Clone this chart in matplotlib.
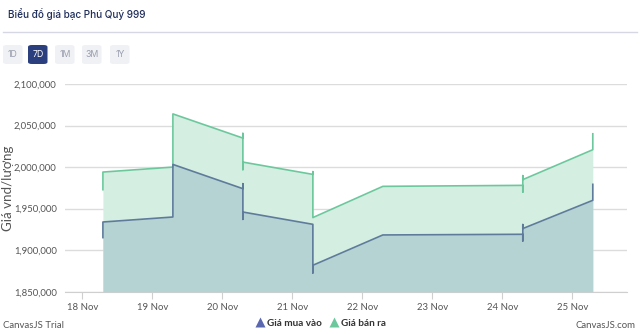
import matplotlib
matplotlib.use("Agg")
import matplotlib.pyplot as plt
from matplotlib.patches import FancyBboxPatch
from matplotlib.lines import Line2D
import pandas as pd

plt.rcParams['font.family'] = ['Lato', 'DejaVu Sans']

title = "Biểu đồ giá bạc Phú Quý 999"
buttons = ["1D", "7D", "1M", "3M", "1Y"]
active_button = "7D"
y_title = "Giá vnd/lượng"
series_names = ["Giá mua vào", "Giá bán ra"]

times = ["2024-11-18 07:00", "2024-11-18 07:00",
         "2024-11-19 07:00", "2024-11-19 07:00",
         "2024-11-20 07:00", "2024-11-20 07:00", "2024-11-20 07:00", "2024-11-20 07:00",
         "2024-11-21 07:00", "2024-11-21 07:00", "2024-11-21 07:00",
         "2024-11-22 07:00",
         "2024-11-24 07:00", "2024-11-24 07:00", "2024-11-24 07:00", "2024-11-24 07:00",
         "2024-11-25 07:00", "2024-11-25 07:00"]
buy = [1915100, 1933900,
       1939900, 2003200,
       1974000, 1980000, 1937100, 1945900,
       1931100, 1872600, 1881800,
       1918300,
       1919100, 1911100, 1930800, 1926000,
       1960000, 1979200]
sell = [1972800, 1994000,
        2000000, 2064000,
        2034900, 2040500, 1996900, 2006000,
        1991200, 1994500, 1939200,
        1976800,
        1978000, 1969900, 1989700, 1984900,
        2020900, 2040100]
tick_dates = ["2024-11-18", "2024-11-19", "2024-11-20", "2024-11-21",
              "2024-11-22", "2024-11-23", "2024-11-24", "2024-11-25"]
y_ticks = [1850000, 1900000, 1950000, 2000000, 2050000, 2100000]

x = pd.to_datetime(times)
xt = pd.to_datetime(tick_dates)

fig = plt.figure(figsize=(6.4, 3.34), dpi=100)
W, H = 640, 334

def fx(px):
    return px / W

def fy(py):
    return 1 - py / H

# Header
fig.text(fx(8), fy(14), title, fontsize=7.2, color="#1f2d5a", va="center", ha="left",
         family=['Inter', 'DejaVu Sans'], fontweight="medium")
fig.add_artist(Line2D([fx(3), fx(637)], [fy(32.3), fy(32.3)], color="#d5d8e2", lw=1))
btn_x = [3, 28, 55, 82, 110]
for bx, b in zip(btn_x, buttons):
    act = b == active_button
    p = FancyBboxPatch((fx(bx), fy(64)), fx(19.5), 19 / H,
                       boxstyle="round,pad=0,rounding_size=0.006",
                       transform=fig.transFigure,
                       facecolor="#2b3f7e" if act else "#eff1f5", edgecolor="none")
    fig.add_artist(p)
    fig.text(fx(bx + 9.75), fy(54.5), b, fontsize=6.3, color="white" if act else "#9a9fae",
             ha="center", va="center", family=['Inter', 'DejaVu Sans'])

ax = fig.add_axes([fx(65), fy(291.7), fx(627.3) - fx(65), fy(84) - fy(291.7)])
ymin, ymax = 1850000, 2100000
ax.set_ylim(ymin, ymax)
ax.set_xlim(pd.Timestamp("2024-11-17 18:00"), pd.Timestamp("2024-11-25 18:50"))

buy_line = "#5e7b9c"
buy_fill = "#b5d3d2"
sell_line = "#6cc89c"
sell_fill = "#d4eee1"

ax.fill_between(x, sell, ymin, color=sell_fill, lw=0, zorder=2)
ax.fill_between(x, buy, ymin, color=buy_fill, lw=0, zorder=3)
ax.plot(x, sell, color=sell_line, lw=1.2, zorder=4)
ax.plot(x, buy, color=buy_line, lw=1.2, zorder=5)

ax.set_yticks(y_ticks)
ax.set_yticklabels([f"{v:,}" for v in y_ticks])
ax.grid(axis="y", color="#dcdcdc", lw=1, zorder=1)
ax.set_xticks(xt)
ax.set_xticklabels([d.strftime("%d %b").lstrip("0") for d in xt])
for s in ["top", "right", "left"]:
    ax.spines[s].set_visible(False)
ax.spines["bottom"].set_color("#cfcfcf")
ax.tick_params(axis="y", length=0, pad=6, labelsize=6.8, labelcolor="#555555")
ax.tick_params(axis="x", length=5, color="#cfcfcf", pad=3, labelsize=6.9, labelcolor="#555555")
ax.set_ylabel(y_title, fontsize=9.6, color="#555555")
ax.yaxis.set_label_coords(-0.09, 0.5)

handles = [Line2D([], [], marker="^", color="none", markerfacecolor="#5b68b0", markeredgecolor="none", markersize=6.5),
           Line2D([], [], marker="^", color="none", markerfacecolor="#6cc89c", markeredgecolor="none", markersize=6.5)]
leg = fig.legend(handles, series_names, loc="center", bbox_to_anchor=(fx(321), fy(323)), ncol=2,
                 frameon=False, prop={"size": 7.2, "weight": "bold"}, handlelength=0.8,
                 handletextpad=0.3, columnspacing=0.9, borderpad=0)
for t in leg.get_texts():
    t.set_color("#333333")

fig.text(fx(3), fy(325), "CanvasJS Trial", fontsize=6.9, color="#555555", ha="left", va="center")
fig.text(fx(636), fy(325), "CanvasJS.com", fontsize=6.9, color="#555555", ha="right", va="center")

fig.savefig("out.png", dpi=100)
